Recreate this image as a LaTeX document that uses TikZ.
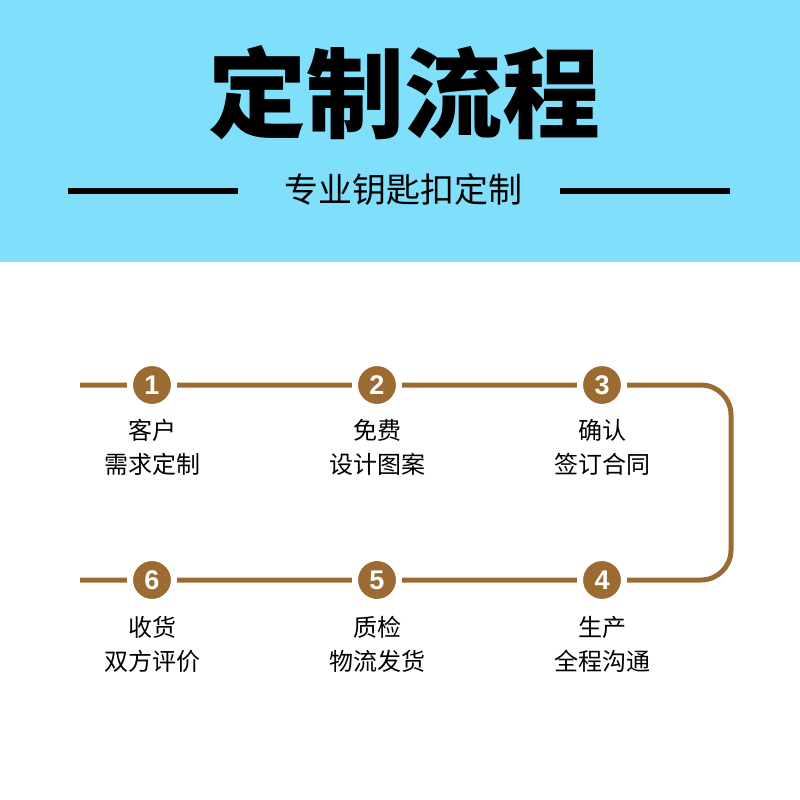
\documentclass[tikz,border=0pt]{standalone}
\usepackage{fontspec}
\newfontfamily\cjk{Noto Sans CJK SC}
\newfontfamily\numfont{Liberation Sans}
\usetikzlibrary{positioning}
\definecolor{sky}{RGB}{128,223,250}
\definecolor{bronze}{RGB}{155,107,49}

\begin{document}
\begin{tikzpicture}[
  x=1pt, y=-1pt,
  flow/.style={draw=bronze, line width=5pt},
  rule/.style={draw=black, line width=6pt},
  stepdot/.style={circle, fill=bronze, draw=white, line width=6pt,
                  minimum size=44pt, inner sep=0pt, text=white,
                  font=\numfont\bfseries\fontsize{27}{27}\selectfont},
  caption/.style={align=center, inner sep=0pt,
                  font=\cjk\fontsize{24}{34}\selectfont},
]
\useasboundingbox (0,0) rectangle (800,800);

% header band
\fill[sky] (0,0) rectangle (800,262);
\node[font=\cjk\bfseries\fontsize{98}{98}\selectfont] (title) at (404,93) {定制流程};
\node[font=\cjk\fontsize{34}{34}\selectfont] (sub) at (403,190) {专业钥匙扣定制};
\coordinate (ll) at (68,191);
\coordinate (lr) at (238,191);
\coordinate (rl) at (560,191);
\coordinate (rr) at (730,191);
\draw[rule] (ll) -- (lr);
\draw[rule] (rl) -- (rr);

% process track
\coordinate (tl) at (80,385);
\coordinate (tr) at (731,385);
\coordinate (br) at (731,580);
\coordinate (bl) at (80,580);
\draw[flow, rounded corners=30pt] (tl) -- (tr) -- (br) -- (bl);

% steps
\node[stepdot] (s1) at (152,385) {1};
\node[stepdot] (s2) at (377,385) {2};
\node[stepdot] (s3) at (602,385) {3};
\node[stepdot] (s4) at (602,580) {4};
\node[stepdot] (s5) at (377,580) {5};
\node[stepdot] (s6) at (152,580) {6};

% captions
\node[caption] (t1) at (152,447) {客户\\需求定制};
\node[caption] (t2) at (377,447) {免费\\设计图案};
\node[caption] (t3) at (602,447) {确认\\签订合同};
\node[caption] (t4) at (602,644) {生产\\全程沟通};
\node[caption] (t5) at (377,644) {质检\\物流发货};
\node[caption] (t6) at (152,644) {收货\\双方评价};
\end{tikzpicture}
\end{document}
